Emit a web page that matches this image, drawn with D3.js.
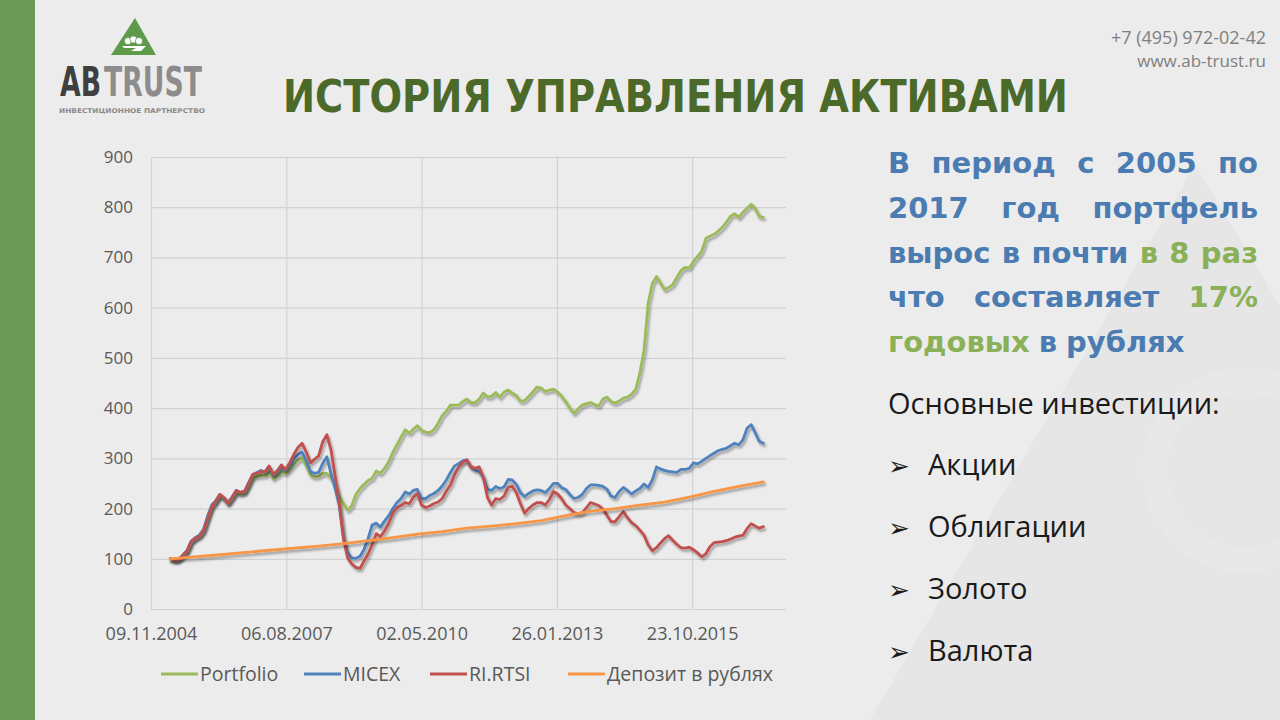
<!DOCTYPE html>
<html>
<head>
<meta charset="utf-8">
<script src="https://cdn.jsdelivr.net/npm/d3@7"></script>
<style>
  body { margin: 0; background: #ececec; }
  svg { display: block; }
</style>
</head>
<body>
<div id="slide"></div>
<script>
// ---- data ----
var tickLabels = ["09.11.2004", "06.08.2007", "02.05.2010", "26.01.2013", "23.10.2015"];
var axisEnd = "15.09.2017";
var yTicks = [0, 100, 200, 300, 400, 500, 600, 700, 800, 900];
var seriesNames = ["Portfolio", "MICEX", "RI.RTSI", "Депозит в рублях"];
var seriesColors = ["#9bbb59", "#4f81bd", "#c0504d", "#f79646"];

// monthly values, first month = April 2005
var firstMonth = "2005-04";
var portfolio = [
  100, 97, 98, 106, 115, 134, 141, 145, 155, 180,
  203, 212, 226, 220, 210, 220, 232, 229, 231, 246,
  262, 264, 266, 265, 273, 260, 265, 274, 270, 278,
  288, 297, 300, 285, 267, 263, 264, 270, 270, 262,
  247, 224, 210, 197, 205, 228, 240, 248, 256, 260,
  275, 270, 280, 293, 312, 327, 342, 357, 350, 358,
  365, 356, 352, 351, 357, 370, 385, 394, 406, 406,
  406, 413, 418, 411, 411, 418, 430, 422, 424, 431,
  422, 432, 436, 430, 425, 414, 415, 423, 432, 442,
  440, 433, 436, 438, 432, 424, 413, 400, 390, 398,
  406, 409, 411, 407, 404, 418, 422, 413, 410, 414,
  420, 422, 428, 438, 470, 515, 608, 648, 662, 650,
  636, 640, 646, 660, 674, 680, 679, 692, 702, 712,
  738, 742, 746, 752, 760, 770, 782, 787, 780, 790,
  798, 806, 797, 782, 780
];
var micex = [
  100, 97, 99, 107, 116, 135, 142, 147, 158, 185,
  207, 215, 228, 222, 212, 223, 236, 232, 234, 252,
  268, 272, 276, 272, 283, 266, 273, 283, 276, 286,
  300, 308, 312, 295, 273, 270, 272, 290, 303, 270,
  240, 205, 145, 112, 102, 101, 105, 118, 140, 167,
  171, 163, 175, 186, 200, 212, 220, 233, 229, 236,
  238, 220, 220, 226, 230, 236, 245, 257, 272, 285,
  290, 295, 297, 282, 277, 274, 262, 238, 236, 244,
  240, 243, 258, 257, 248, 232, 224, 230, 235, 237,
  236, 232, 240, 250, 250, 242, 238, 228, 220, 222,
  228, 240, 247, 247, 246, 244, 238, 225, 222, 234,
  242, 236, 229, 235, 240, 249, 242, 257, 283, 279,
  276, 274, 273, 272, 278, 278, 280, 291, 289, 294,
  300, 305, 310, 315, 318, 320, 325, 330, 327, 337,
  360, 367, 350, 334, 330
];
var rts = [
  100, 97, 98, 106, 115, 134, 141, 145, 155, 180,
  204, 214, 228, 222, 210, 222, 236, 232, 234, 250,
  268, 270, 274, 273, 285, 268, 276, 287, 278, 292,
  308, 322, 330, 312, 291, 298, 305, 333, 347, 317,
  265, 210, 140, 102, 90, 83, 81, 95, 109, 128,
  150, 144, 155, 170, 192, 202, 206, 212, 210, 222,
  230, 207, 202, 205, 210, 213, 220, 235, 247, 268,
  283, 292, 297, 284, 280, 283, 262, 222, 207, 220,
  218, 225, 242, 245, 232, 210, 191, 200, 207, 212,
  212, 207, 218, 234, 229, 220, 207, 200, 192, 190,
  192, 202, 212, 209, 206, 199, 186, 174, 174, 184,
  194, 182, 172, 166, 157, 147, 128, 116, 122, 131,
  140, 146, 137, 129, 122, 121, 123, 118, 112, 104,
  110, 124, 132, 133, 134, 136, 139, 143, 145, 147,
  160, 170, 165, 161, 164
];
var deposit = [
  ["2005-04", 100], ["2006-04", 108], ["2007-04", 117], ["2008-04", 125],
  ["2008-10", 130], ["2009-04", 136], ["2009-10", 142], ["2010-04", 149],
  ["2010-10", 154], ["2011-04", 161], ["2011-10", 165], ["2012-04", 170],
  ["2012-10", 176], ["2013-04", 186], ["2013-10", 195], ["2014-04", 200],
  ["2014-10", 207], ["2015-04", 213], ["2015-10", 223], ["2016-04", 234],
  ["2016-10", 244], ["2017-04", 253]
];

var titleText = "ИСТОРИЯ УПРАВЛЕНИЯ АКТИВАМИ";
// words starting with * are drawn green
var infoLines = [
  "В период с 2005 по",
  "2017 год портфель",
  "вырос в почти *в *8 *раз",
  "что составляет *17%",
  "*годовых в рублях"
];
var bulletHeader = "Основные инвестиции:";
var bulletItems = ["Акции", "Облигации", "Золото", "Валюта"];

// ---- page ----
var svg = d3.select("#slide")
    .append("svg")
    .attr("width", 1280)
    .attr("height", 720);

var defs = svg.append("defs");
defs.append("filter")
    .attr("id", "shadow")
    .attr("x", "-5%").attr("y", "-10%")
    .attr("width", "115%").attr("height", "130%")
    .append("feDropShadow")
    .attr("dx", 1.5).attr("dy", 2.5)
    .attr("stdDeviation", 1.3)
    .attr("flood-color", "#000")
    .attr("flood-opacity", 0.35);

svg.append("rect").attr("width", 1280).attr("height", 720).attr("fill", "#ececec");

// faint watermark of the logo on the right
svg.append("path").attr("d", "M1195,165 L870,720 L1530,720 Z")
    .attr("fill", "#000").attr("opacity", 0.025);
svg.append("circle").attr("cx", 1245).attr("cy", 470).attr("r", 90)
    .attr("fill", "none").attr("stroke", "#fff").attr("stroke-width", 26).attr("opacity", 0.08);

// left green stripe
svg.append("rect").attr("x", 0).attr("y", 0).attr("width", 35).attr("height", 720).attr("fill", "#6b9a57");

// logo
var logo = svg.append("g");
logo.append("path").attr("d", "M135,18 L111,55 L156,55 Z").attr("fill", "#5f9a4b");
[[128, 41], [133.5, 39.5], [139, 41]].forEach(function(c) {
    logo.append("circle").attr("cx", c[0]).attr("cy", c[1]).attr("r", 3.6)
        .attr("fill", "#fff").attr("stroke", "#5f9a4b").attr("stroke-width", 0.8);
});
logo.append("path").attr("d", "M122,46 L146,46 L141,51 L131,51 L136,48 L124,48 Z").attr("fill", "#fff");

// squeeze a word horizontally into the given width
function logoWord(txt, x0, w, color) {
    var t = logo.append("text")
        .attr("font-family", "Liberation Sans Narrow, DejaVu Sans Condensed, sans-serif")
        .attr("font-weight", "bold")
        .attr("font-size", 40)
        .attr("fill", color)
        .text(txt);
    var natural = t.node().getComputedTextLength();
    t.attr("transform", "translate(" + x0 + ",96) scale(" + (w / natural) + ",1)");
}
logoWord("AB", 60, 41, "#3f3f3f");
logoWord("TRUST", 104, 98, "#8c8c8c");

logo.append("text")
    .attr("x", 59).attr("y", 113)
    .attr("font-family", "DejaVu Sans, sans-serif")
    .attr("font-weight", "bold")
    .attr("font-size", 6.5)
    .attr("fill", "#8a8a8a")
    .attr("textLength", 146)
    .attr("lengthAdjust", "spacingAndGlyphs")
    .text("ИНВЕСТИЦИОННОЕ ПАРТНЕРСТВО");

// contacts
var contacts = svg.append("g")
    .attr("font-family", "Open Sans, sans-serif")
    .attr("fill", "#7f7f7f")
    .attr("text-anchor", "end");
contacts.append("text").attr("x", 1266).attr("y", 44).attr("font-size", 18).text("+7 (495) 972-02-42");
contacts.append("text").attr("x", 1266).attr("y", 67).attr("font-size", 17).text("www.ab-trust.ru");

// title
svg.append("text")
    .attr("x", 283).attr("y", 112)
    .attr("font-family", "DejaVu Sans, sans-serif")
    .attr("font-weight", "bold")
    .attr("font-size", 45)
    .attr("fill", "#4b6a2a")
    .attr("textLength", 785)
    .attr("lengthAdjust", "spacingAndGlyphs")
    .text(titleText);

// ---- chart ----
var margin = {top: 157, right: 494, bottom: 111, left: 151},
    width = 1280 - margin.left - margin.right,
    height = 720 - margin.top - margin.bottom;

var parseTick = d3.timeParse("%d.%m.%Y");
var parseMonth = d3.timeParse("%Y-%m");

var chart = svg.append("g")
    .attr("transform", "translate(" + margin.left + "," + margin.top + ")");

var x = d3.scaleTime()
    .domain([parseTick(tickLabels[0]), parseTick(axisEnd)])
    .range([0, width]);

var y = d3.scaleLinear()
    .domain([0, 900])
    .range([height, 0]);

// horizontal grid + y labels
var yAxis = chart.append("g")
    .call(d3.axisLeft(y).tickValues(yTicks).tickSize(-width).tickPadding(18));
yAxis.select(".domain").remove();
yAxis.selectAll("line").attr("stroke", "#d2d2d2").attr("stroke-width", 1.2);
yAxis.selectAll("text")
    .attr("font-family", "Open Sans, sans-serif")
    .attr("font-size", 17)
    .attr("fill", "#595959");

// vertical grid + x labels
var xAxis = chart.append("g")
    .attr("transform", "translate(0," + height + ")")
    .call(d3.axisBottom(x)
        .tickValues(tickLabels.map(parseTick))
        .tickSize(-height)
        .tickFormat(d3.timeFormat("%d.%m.%Y")));
xAxis.select(".domain").remove();
xAxis.selectAll("line").attr("stroke", "#d2d2d2").attr("stroke-width", 1.2);
xAxis.selectAll("text")
    .attr("y", 31).attr("dy", 0)
    .attr("font-family", "Open Sans, sans-serif")
    .attr("font-size", 18)
    .attr("fill", "#595959");

var start = parseMonth(firstMonth);
function monthly(values) {
    return values.map(function(v, i) { return {date: d3.timeMonth.offset(start, i), value: v}; });
}
var series = [
    monthly(portfolio),
    monthly(micex),
    monthly(rts),
    deposit.map(function(d) { return {date: parseMonth(d[0]), value: d[1]}; })
];

var line = d3.line()
    .x(function(d) { return x(d.date); })
    .y(function(d) { return y(d.value); });

chart.selectAll(".series")
    .data(series)
    .enter()
    .append("path")
    .attr("class", "series")
    .attr("d", line)
    .attr("fill", "none")
    .attr("stroke", function(d, i) { return seriesColors[i]; })
    .attr("stroke-width", 2.8)
    .attr("stroke-linejoin", "round")
    .attr("stroke-linecap", "round")
    .attr("filter", "url(#shadow)");

// legend
var legendX = [161, 304, 430, 568];
var legend = svg.append("g")
    .attr("font-family", "Open Sans, sans-serif")
    .attr("font-size", 19.5)
    .attr("fill", "#595959");
var items = legend.selectAll("g")
    .data(seriesNames)
    .enter()
    .append("g")
    .attr("transform", function(d, i) { return "translate(" + legendX[i] + ",0)"; });
items.append("line")
    .attr("x1", 0).attr("x2", 37)
    .attr("y1", 674).attr("y2", 674)
    .attr("stroke", function(d, i) { return seriesColors[i]; })
    .attr("stroke-width", 2.8);
items.append("text")
    .attr("x", 39).attr("y", 681)
    .text(function(d) { return d; });

// ---- right text block ----
var blue = "#4a7bb1", green = "#8bb158";
var left = 888, right = 1258;
var info = svg.append("g")
    .attr("font-family", "DejaVu Sans, sans-serif")
    .attr("font-weight", "bold")
    .attr("font-size", 29);

infoLines.forEach(function(str, i) {
    var words = str.split(" ");
    var nodes = words.map(function(w) {
        var isGreen = w.charAt(0) === "*";
        return info.append("text")
            .attr("y", 173 + i * 44.75)
            .attr("fill", isGreen ? green : blue)
            .text(isGreen ? w.slice(1) : w);
    });
    var lens = nodes.map(function(n) { return n.node().getComputedTextLength(); });
    var space = 9;
    if (i < infoLines.length - 1) {
        space = (right - left - d3.sum(lens)) / (words.length - 1);
    }
    var cx = left;
    nodes.forEach(function(n, k) {
        n.attr("x", cx);
        cx += lens[k] + space;
    });
});

var bullets = svg.append("g")
    .attr("font-family", "Open Sans, sans-serif")
    .attr("font-size", 29)
    .attr("fill", "#1a1a1a");
bullets.append("text").attr("x", 888).attr("y", 414).text(bulletHeader);
bulletItems.forEach(function(b, i) {
    var yy = 475 + i * 62;
    bullets.append("text")
        .attr("x", 888).attr("y", yy)
        .attr("font-family", "DejaVu Sans, sans-serif")
        .attr("font-size", 26)
        .text("\u27A2");
    bullets.append("text").attr("x", 928).attr("y", yy).text(b);
});
</script>
</body>
</html>
